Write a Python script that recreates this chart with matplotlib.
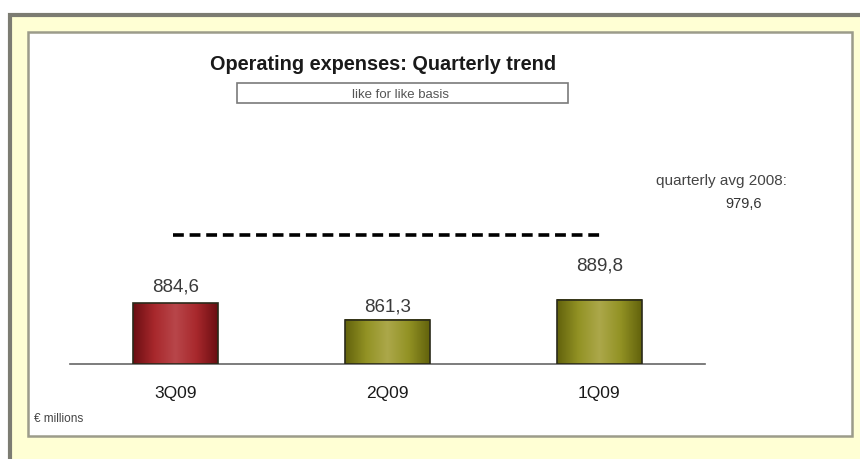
import numpy as np
import matplotlib
matplotlib.use("Agg")
import matplotlib.pyplot as plt
from matplotlib.patches import Rectangle
from matplotlib.colors import LinearSegmentedColormap

plt.rcParams['font.family'] = ['Liberation Sans', 'DejaVu Sans']

# Quarterly operating expenses, € millions
quarters = ['3Q09', '2Q09', '1Q09']
expenses = [884.6, 861.3, 889.8]
value_labels = ['884,6', '861,3', '889,8']
avg_2008 = 979.6
avg_label = '979,6'

W, H = 860, 460
fig = plt.figure(figsize=(W / 100, H / 100), dpi=100)
fig.patch.set_facecolor('white')

def px(x, y, w, h):
    # pixel box (top-left origin) -> figure fraction
    return [x / W, 1 - (y + h) / H, w / W, h / H]

# yellow frame and white panel
bg = fig.add_axes([0, 0, 1, 1])
bg.set_xlim(0, W)
bg.set_ylim(H, 0)
bg.axis('off')
bg.add_patch(Rectangle((10, 16), 870, 470, facecolor='#FFFFD4',
                       edgecolor='#7C7C72', lw=3))
bg.add_patch(Rectangle((27.5, 32.5), 824, 404, facecolor='white',
                       edgecolor='#9C9C8A', lw=1.8))

# title and subtitle box
bg.text(383, 64, 'Operating expenses: Quarterly trend', fontsize=14.3,
        fontweight='bold', ha='center', va='center', color='#1A1A1A')
bg.add_patch(Rectangle((237, 84), 331, 20, facecolor='white',
                       edgecolor='#7A7A7A', lw=1.2))
bg.text(401, 94.5, 'like for like basis', fontsize=9.5, ha='center',
        va='center', color='#555555')

bg.text(721, 181, 'quarterly avg 2008:', fontsize=11, ha='center',
        va='center', color='#444444')
bg.text(744, 204, avg_label, fontsize=10.5, ha='center', va='center',
        color='#333333')
bg.text(34, 419, '€ millions', fontsize=8.5, ha='left', va='center',
        color='#444444')

# bar chart area
ax = fig.add_axes(px(70, 165, 635, 200))
ax.set_xlim(-0.5, 2.5)
ax.set_ylim(800, 800 + 200 / 0.718)
ax.axis('off')
ax.axhline(800, color='#666666', lw=1.2, clip_on=False)

red_cmap = LinearSegmentedColormap.from_list(
    'red', ['#6A0E12', '#A8282C', '#B8464A', '#A8282C', '#6A0E12'])
olive_cmap = LinearSegmentedColormap.from_list(
    'olive', ['#62620C', '#929224', '#ACA84A', '#929224', '#62620C'])
grad = np.linspace(0, 1, 256).reshape(1, -1)

bw = 0.4
label_gap = [12, 8, 36]   # space between bar top and its value label (data units)
for i, (q, v, lab) in enumerate(zip(quarters, expenses, value_labels)):
    cmap = red_cmap if i == 0 else olive_cmap
    ax.imshow(grad, cmap=cmap, aspect='auto', interpolation='bicubic',
              extent=(i - bw / 2, i + bw / 2, 800, v), zorder=2)
    ax.add_patch(Rectangle((i - bw / 2, 800), bw, v - 800, fill=False,
                           edgecolor='#2A2A1A', lw=1.2, zorder=3))
    ax.text(i, v + label_gap[i], lab, fontsize=13.5, ha='center',
            va='bottom', color='#3A3A3A')
    ax.text(i, 800 - 40, q, fontsize=12.5, ha='center', va='center',
            color='#1A1A1A', clip_on=False)

# dashed line for the 2008 quarterly average
ax.hlines(avg_2008, -0.015, 2.015, colors='black', linestyles=(0, (3, 1.6)),
          lw=2.6, zorder=4)

fig.savefig('out.png', dpi=100)
